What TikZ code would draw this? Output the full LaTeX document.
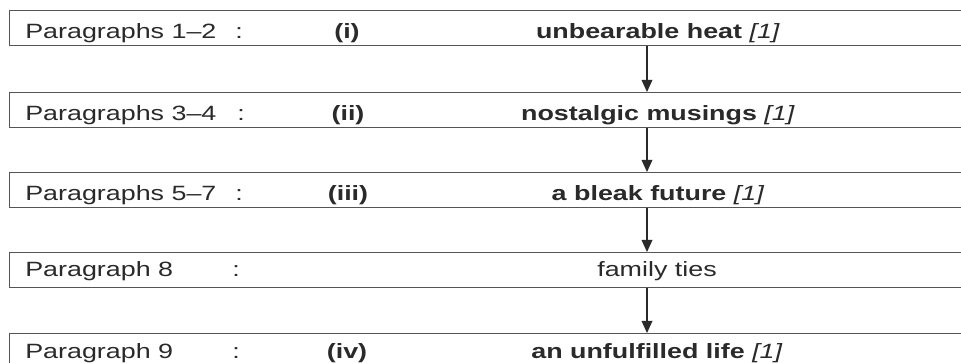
\documentclass[tikz,border=0pt]{standalone}
\usepackage{fontspec}
\setmainfont{Liberation Sans}[FakeStretch=1.3]
\usetikzlibrary{arrows.meta}
\definecolor{ink}{HTML}{2A2A2A}
\definecolor{edge}{HTML}{555555}
\begin{document}
\begin{tikzpicture}[x=0.75pt,y=-0.75pt,
  rowbox/.style={draw=edge,line width=1.1pt,minimum width=966*0.75pt,minimum height=35*0.75pt,inner sep=0pt,anchor=north west},
  lab/.style={text=ink,font=\fontsize{15.5}{18}\selectfont,inner sep=0pt,anchor=base west},
  num/.style={text=ink,font=\fontsize{15.5}{18}\selectfont\bfseries,inner sep=0pt,anchor=base},
  ans/.style={text=ink,font=\fontsize{15.5}{18}\selectfont\bfseries,inner sep=0pt,anchor=base},
  plain/.style={text=ink,font=\fontsize{15.5}{18}\selectfont,inner sep=0pt,anchor=base},
  arr/.style={draw=ink,line width=0.9pt,-{Triangle[length=9pt,width=8pt]}}]
\useasboundingbox (0,0) rectangle (961,363);
\clip (0,0) rectangle (961,363);
\fill[white] (0,0) rectangle (961,363);
\node[rowbox] (b1) at (9,10) {};
\node[rowbox] (b2) at (9,92) {};
\node[rowbox] (b3) at (9,172) {};
\node[rowbox] (b4) at (9,252) {};
\node[rowbox] (b5) at (9,333) {};
\coordinate (ax) at (647,0);
\draw[arr] (b1.south -| ax) -- (b2.north -| ax);
\draw[arr] (b2.south -| ax) -- (b3.north -| ax);
\draw[arr] (b3.south -| ax) -- (b4.north -| ax);
\draw[arr] (b4.south -| ax) -- (b5.north -| ax);
% row 1
\node[lab] (p1) at (25,39) {Paragraphs 1–2};
\node[lab] (c1) at (235,39) {:};
\node[num] (n1) at (347,39) {(i)};
\node[ans] (a1) at (658,39) {unbearable heat \textmd{\itshape [1]}};
% row 2
\node[lab] (p2) at (25,121) {Paragraphs 3–4};
\node[lab] (c2) at (237,121) {:};
\node[num] (n2) at (348,121) {(ii)};
\node[ans] (a2) at (658,121) {nostalgic musings \textmd{\itshape [1]}};
% row 3
\node[lab] (p3) at (25,201) {Paragraphs 5–7};
\node[lab] (c3) at (235,201) {:};
\node[num] (n3) at (348,201) {(iii)};
\node[ans] (a3) at (658,201) {a bleak future \textmd{\itshape [1]}};
% row 4
\node[lab] (p4) at (25,277) {Paragraph 8};
\node[lab] (c4) at (232,277) {:};
\node[plain] (a4) at (657,277) {family ties};
% row 5
\node[lab] (p5) at (25,359) {Paragraph 9};
\node[lab] (c5) at (232,359) {:};
\node[num] (n5) at (347,359) {(iv)};
\node[ans] (a5) at (657,359) {an unfulfilled life \textmd{\itshape [1]}};
\end{tikzpicture}
\end{document}
